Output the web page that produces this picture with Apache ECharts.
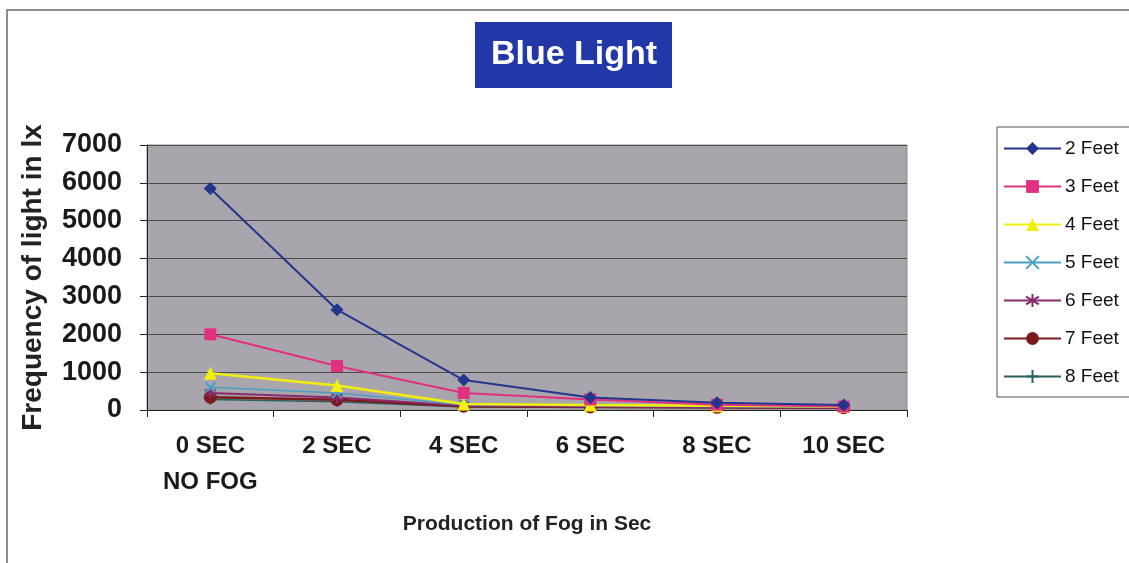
<!DOCTYPE html>
<html>
<head>
<meta charset="utf-8">
<script src="https://cdn.jsdelivr.net/npm/echarts@6/dist/echarts.min.js"></script>
<style>
html,body{margin:0;padding:0;background:#fff;}
#chart{width:1129px;height:563px;}
</style>
</head>
<body>
<div id="chart"></div>
<script>
const categories = ['0 SEC\nNO FOG', '2 SEC', '4 SEC', '6 SEC', '8 SEC', '10 SEC'];
const seriesNames = ['2 Feet', '3 Feet', '4 Feet', '5 Feet', '6 Feet', '7 Feet', '8 Feet'];
const feet2 = [5850, 2650, 790, 330, 190, 130];
const feet3 = [2000, 1160, 450, 280, 140, 90];
const feet4 = [970, 650, 160, 130, 110, 90];
const feet5 = [600, 450, 140, 110, 90, 70];
const feet6 = [450, 330, 110, 90, 80, 60];
const feet7 = [340, 270, 100, 80, 70, 60];
const feet8 = [280, 220, 80, 70, 60, 50];
const yTicks = [0, 1000, 2000, 3000, 4000, 5000, 6000, 7000];

const allData = [feet2, feet3, feet4, feet5, feet6, feet7, feet8];
const colors = ['#23358c', '#e0307f', '#f2ee10', '#4a9fc4', '#8a2a6e', '#7a1a1a', '#2a6262'];
const symbols = ['diamond', 'rect', 'triangle',
  'path://M0,0L10,10M10,0L0,10',
  'path://M5,0L5,10M0,2L10,8M10,2L0,8',
  'circle',
  'path://M5,0L5,10M0,5L10,5'];
const sizes = [13, 12, 13, 10, 11, 13, 10];
const widths = [2, 2, 2.5, 1.5, 2, 2.5, 1.5];
const strokeOnly = [false, false, false, true, true, false, true];

const chart = echarts.init(document.getElementById('chart'));
const font = '"Liberation Sans", Arial, sans-serif';

const series = seriesNames.map((name, i) => ({
  name: name,
  type: 'line',
  data: allData[i],
  symbol: symbols[i],
  symbolSize: sizes[i],
  showSymbol: true,
  z: 10 - i,
  lineStyle: { color: colors[i], width: widths[i] },
  itemStyle: strokeOnly[i]
    ? { color: colors[i], borderColor: colors[i], borderWidth: 2 }
    : { color: colors[i], borderWidth: 0 },
  emphasis: { disabled: true },
  animation: false
}));

chart.setOption({
  animation: false,
  textStyle: { fontFamily: font },
  grid: {
    left: 147, right: 222, top: 145, bottom: 153,
    show: true, backgroundColor: '#a9a5ac', borderColor: '#8a8a8a', borderWidth: 1
  },
  graphic: [
    { type: 'rect', shape: { x: 7, y: 10, width: 1140, height: 600 },
      style: { fill: 'none', stroke: '#6a6a6a', lineWidth: 1.5 }, z: 0 },
    { type: 'rect', shape: { x: 475, y: 22, width: 197, height: 66 },
      style: { fill: '#2237a8' }, z: 5 },
    { type: 'text', x: 574, y: 55,
      style: { text: 'Blue Light', fill: '#ffffff', font: 'bold 34px ' + font,
        align: 'center', verticalAlign: 'middle' }, z: 6 },
    { type: 'rect', shape: { x: 997, y: 127, width: 140, height: 270 },
      style: { fill: '#ffffff', stroke: '#555555', lineWidth: 1 }, z: 1 }
  ],
  legend: {
    orient: 'vertical',
    left: 998, top: 134,
    itemWidth: 57, itemHeight: 16, itemGap: 19,
    data: seriesNames,
    textStyle: { fontFamily: font, fontSize: 19, color: '#111', padding: [0, 0, 0, -1] },
    z: 5
  },
  xAxis: {
    type: 'category',
    data: categories,
    boundaryGap: true,
    name: 'Production of Fog in Sec',
    nameLocation: 'middle',
    nameGap: 104,
    nameTextStyle: { fontFamily: font, fontSize: 21, fontWeight: 'bold', color: '#222' },
    axisLine: { lineStyle: { color: '#222', width: 1 } },
    axisTick: { show: true, inside: false, length: 7, alignWithLabel: false, lineStyle: { color: '#222' } },
    axisLabel: { fontFamily: font, fontSize: 24, fontWeight: 'bold', color: '#1a1a1a',
      lineHeight: 36, margin: 18, interval: 0 },
    splitLine: { show: false }
  },
  yAxis: {
    type: 'value',
    min: 0, max: 7000, interval: 1000,
    name: 'Frequency of light in lx',
    nameLocation: 'middle',
    nameGap: 100,
    nameTextStyle: { fontFamily: font, fontSize: 28, fontWeight: 'bold', color: '#222' },
    axisLine: { show: true, lineStyle: { color: '#222', width: 1 } },
    axisTick: { show: true, inside: false, length: 7, lineStyle: { color: '#222' } },
    axisLabel: { fontFamily: font, fontSize: 27, fontWeight: 'bold', color: '#1a1a1a', margin: 25,
      formatter: v => yTicks.includes(v) ? String(v) : '' },
    splitLine: { show: true, lineStyle: { color: '#4a4a4a', width: 1 } }
  },
  series: series
});
</script>
</body>
</html>
